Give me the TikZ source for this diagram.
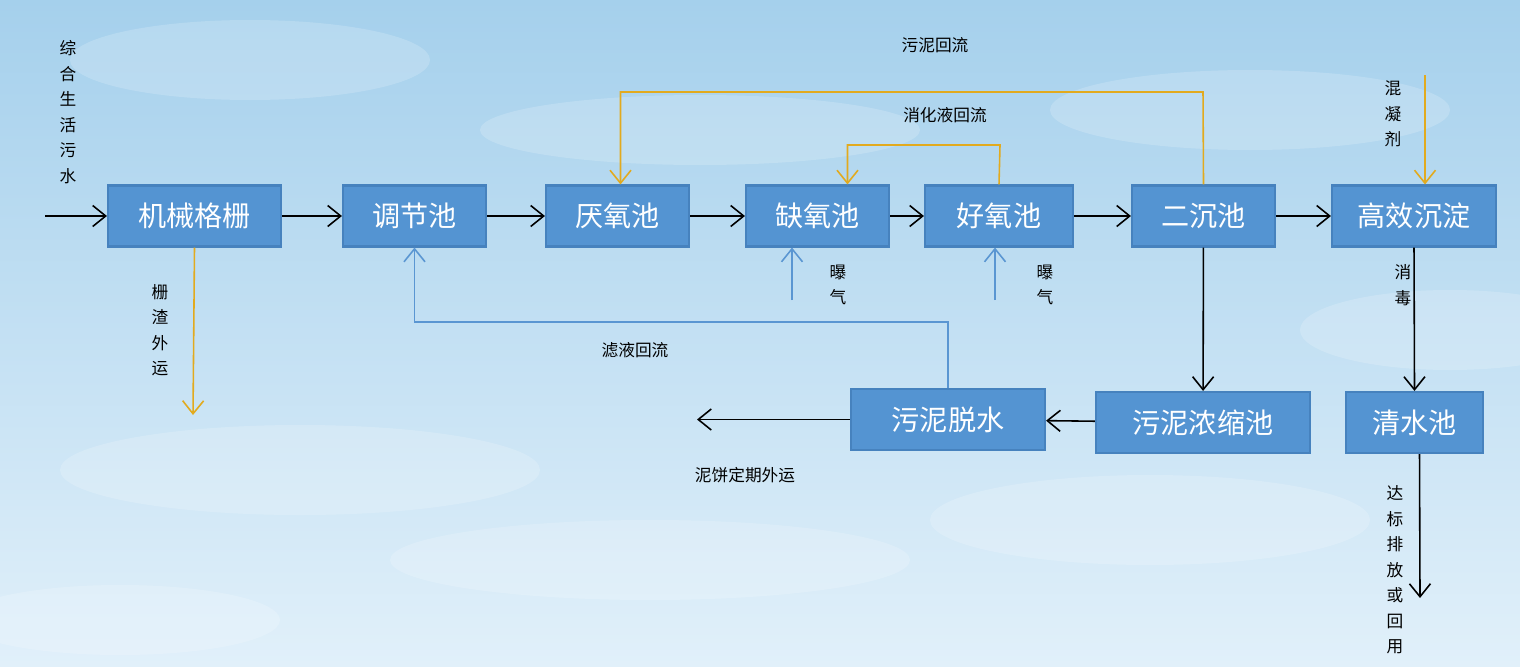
\documentclass[tikz,border=0pt]{standalone}
\usepackage{fontspec}
\newfontfamily\cjk{Noto Sans CJK SC}
\usetikzlibrary{arrows.meta,positioning}
\definecolor{boxblue}{RGB}{84,148,210}
\definecolor{boxedge}{RGB}{70,130,190}
\definecolor{sludge}{RGB}{226,170,30}
\definecolor{airblue}{RGB}{90,150,210}
\definecolor{skytop}{RGB}{165,208,236}
\definecolor{skybot}{RGB}{225,240,250}
\tikzset{
  unit/.style={draw=boxedge, line width=1.2pt, fill=boxblue, text=white,
    font=\cjk\fontsize{16}{18}\selectfont, minimum height=1.22cm, inner sep=0pt},
  lbl/.style={font=\cjk\fontsize{9.5}{14.5}\selectfont, inner sep=0pt, align=center},
  flow/.style={-{Straight Barb[length=2.6mm,width=4.2mm]}, line width=0.9pt},
  back/.style={flow, draw=sludge},
  air/.style={flow, draw=airblue},
}
\begin{document}
\begin{tikzpicture}[x=0.02cm,y=-0.02cm]
%天空背景
\shade[top color=skytop, bottom color=skybot] (0,0) rectangle (1520,666);
\useasboundingbox (0,0) rectangle (1520,666);
\foreach \cx/\cy/\rx/\ry in {250/60/180/40, 700/130/220/35, 1250/110/200/40, 300/470/240/45,
    650/560/260/40, 1150/520/220/45, 1450/330/150/40, 120/620/160/35}
{
    \fill[white, opacity=0.18] (\cx,\cy) ellipse ({\rx*0.02cm} and {\ry*0.02cm});
};

%主流程
\node[unit, minimum width=3.46cm] (Grid) at (194.5,216) {机械格栅};
\node[unit, minimum width=2.86cm] (Adjust) at (414.5,216) {调节池};
\node[unit, minimum width=2.86cm] (Anaer) at (617.5,216) {厌氧池};
\node[unit, minimum width=2.86cm] (Anox) at (817.5,216) {缺氧池};
\node[unit, minimum width=2.96cm] (Oxic) at (999,216) {好氧池};
\node[unit, minimum width=2.86cm] (Settle) at (1203.5,216) {二沉池};
\node[unit, minimum width=3.28cm] (HiEff) at (1414,216) {高效沉淀};
\node[unit, minimum width=3.88cm] (Dewater) at (948,419.5) {污泥脱水};
\node[unit, minimum width=4.28cm] (Thick) at (1203,422.5) {污泥浓缩池};
\node[unit, minimum width=2.74cm] (Clear) at (1414.5,422.5) {清水池};

\coordinate (Inlet) at (45,216);
\coordinate (Screen) at (193,415);
\coordinate (Cake) at (697,419.5);
\coordinate (Drug) at (1425,75);
\coordinate (Outlet) at (1420,598);
\coordinate (AirA) at (792,300);
\coordinate (AirB) at (995,300);

\draw[flow] (Inlet) -- (Grid);
\draw[flow] (Grid) -- (Adjust);
\draw[flow] (Adjust) -- (Anaer);
\draw[flow] (Anaer) -- (Anox);
\draw[flow] (Anox) -- (Oxic);
\draw[flow] (Oxic) -- (Settle);
\draw[flow] (Settle) -- (HiEff);
\draw[flow] (Settle) -- (Thick);
\draw[flow] (Thick) -- (Dewater);
\draw[flow] (Dewater) -- (Cake);
\draw[flow] (HiEff.south) -- (Clear.north);
\draw[flow] (Clear.south) ++(5,0) -- (Outlet);

%回流与加药
\draw[back] (Grid.south) -- (Screen);
\draw[back] (Settle.north) -- (1203,92) -| ([xshift=0.06cm]Anaer.north);
\draw[back] (Oxic.north) -- (1000,145) -| ([xshift=0.6cm]Anox.north);
\draw[back] (Drug) -- ([xshift=0.22cm]HiEff.north);
\draw[air] (AirA) -- (AirA |- Anox.south);
\draw[air] (AirB) -- (AirB |- Oxic.south);
\draw[air] (Dewater.north) -- (948,322) -| (Adjust.south);

\node[lbl] (tIn) at (68,112) {综\\合\\生\\活\\污\\水};
\node[lbl] (tScreen) at (160,330) {栅\\渣\\外\\运};
\node[lbl] (tReturn) at (935,45) {污泥回流};
\node[lbl] (tNitr) at (945,115) {消化液回流};
\node[lbl] (tDrug) at (1393,114) {混\\凝\\剂};
\node[lbl] (tAirA) at (838,285) {曝\\气};
\node[lbl] (tAirB) at (1045,285) {曝\\气};
\node[lbl] (tFilt) at (635,350) {滤液回流};
\node[lbl] (tCake) at (745,475) {泥饼定期外运};
\node[lbl] (tDis) at (1403,285) {消\\毒};
\node[lbl] (tOut) at (1395,570) {达\\标\\排\\放\\或\\回\\用};
\end{tikzpicture}
\end{document}
